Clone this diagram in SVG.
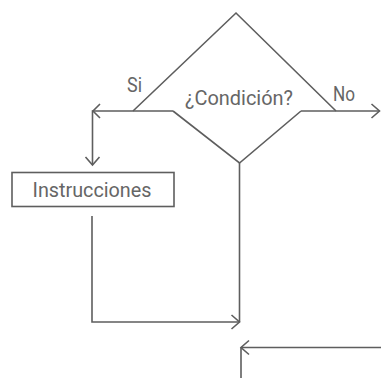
<svg xmlns="http://www.w3.org/2000/svg" width="381" height="378" viewBox="0 0 381 378">
<style>
.ln{fill:none;stroke:#5e5e5e;stroke-width:1.6;stroke-linejoin:miter}
.tx{font-family:Roboto,"DejaVu Sans",sans-serif;font-size:20px;fill:#666}
</style>
<defs>
<marker id="ah" markerUnits="userSpaceOnUse" viewBox="-10 -9 12 18" markerWidth="12" markerHeight="18" refX="0" refY="0" orient="auto" overflow="visible">
<path d="M-8,-7 L0,0 L-8,7" fill="none" stroke="#5e5e5e" stroke-width="1.6"/>
</marker>
</defs>
<rect width="381" height="378" fill="#fff"/>
<g id="decision">
<path class="ln" d="M133,111 L236,13 L336,111"/>
<path class="ln" d="M173,111 L239.5,163 L301,111"/>
<text class="tx" x="239" y="104.5" text-anchor="middle" textLength="108" lengthAdjust="spacingAndGlyphs">¿Condición?</text>
</g>
<g id="instrucciones">
<rect class="ln" x="12" y="172.5" width="162" height="34" fill="#fff"/>
<text class="tx" x="92" y="196.5" text-anchor="middle" textLength="119" lengthAdjust="spacingAndGlyphs">Instrucciones</text>
</g>
<g id="labels">
<text class="tx" x="127" y="92" textLength="15" lengthAdjust="spacingAndGlyphs">Si</text>
<text class="tx" x="333" y="100.5" textLength="22" lengthAdjust="spacingAndGlyphs">No</text>
</g>
<g id="connectors">
<path class="ln" d="M173,111 L92.5,111 L92.5,165" marker-end="url(#ah)"/>
<path d="M100,104 L93,111 L100,118" fill="none" stroke="#5e5e5e" stroke-width="1.6"/>
<path class="ln" d="M301,111 L379.5,111" marker-end="url(#ah)"/>
<path class="ln" d="M239.5,163 L239.5,322"/>
<path class="ln" d="M92,216 L92,322 L239.5,322" marker-end="url(#ah)"/>
<path class="ln" d="M381,347.5 L241,347.5" marker-end="url(#ah)"/>
<path class="ln" d="M241,347.5 L241,378"/>
</g>
</svg>
